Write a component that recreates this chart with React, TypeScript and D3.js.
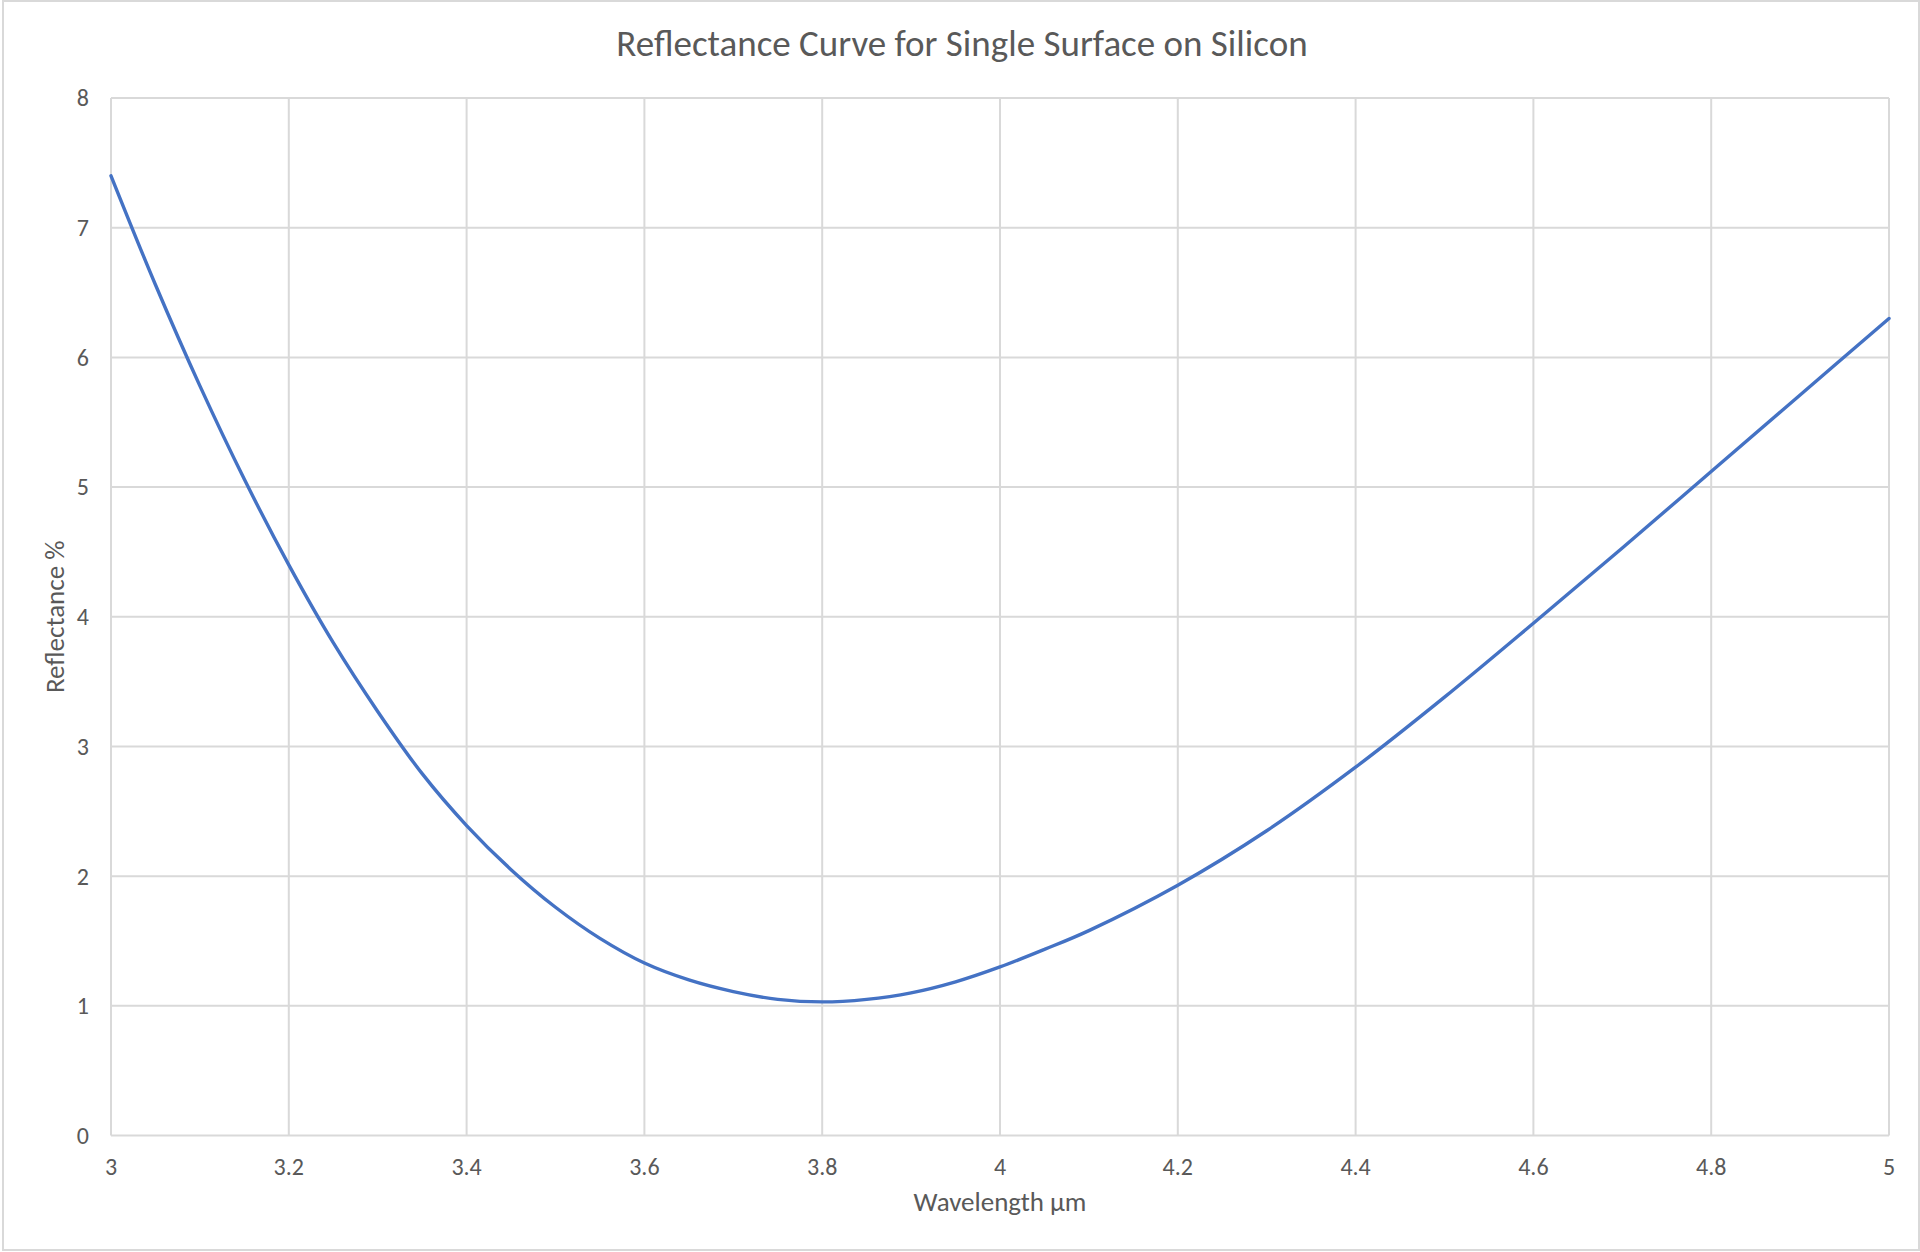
import * as d3 from "d3";

// wavelength (µm) and reflectance (%)
const WAVELENGTH = [
  3.0, 3.05, 3.1, 3.15, 3.2, 3.25, 3.3, 3.35, 3.4, 3.45, 3.5, 3.55, 3.6, 3.65, 3.7, 3.75, 3.8,
  3.85, 3.9, 3.95, 4.0, 4.05, 4.1, 4.2, 4.3, 4.4, 4.5, 4.6, 4.7, 4.8, 4.9, 5.0,
];
const REFLECTANCE = [
  7.4, 6.56, 5.78, 5.06, 4.4, 3.8, 3.27, 2.79, 2.39, 2.05, 1.76, 1.52, 1.33, 1.2, 1.11, 1.05, 1.03,
  1.05, 1.1, 1.185, 1.3, 1.435, 1.58, 1.93, 2.35, 2.84, 3.38, 3.95, 4.53, 5.12, 5.71, 6.3,
];
const X_TICKS = [3, 3.2, 3.4, 3.6, 3.8, 4, 4.2, 4.4, 4.6, 4.8, 5];
const Y_TICKS = [0, 1, 2, 3, 4, 5, 6, 7, 8];

const TITLE = "Reflectance Curve for Single Surface on Silicon";
const X_LABEL = "Wavelength µm";
const Y_LABEL = "Reflectance %";

const W = 1920;
const H = 1252;
const FONT = "Carlito, Calibri, Lato, sans-serif";
const TEXT = "#595959";
const GRID = "#d9d9d9";
const LINE = "#4472c4";

export default function App() {
  const x = d3.scaleLinear().domain([3, 5]).range([111, 1889]);
  const y = d3.scaleLinear().domain([0, 8]).range([1135.5, 98]);

  const points = WAVELENGTH.map((w, i) => ({ w, r: REFLECTANCE[i] }));
  const line = d3
    .line<{ w: number; r: number }>()
    .x((d) => x(d.w))
    .y((d) => y(d.r))
    .curve(d3.curveCatmullRom.alpha(0.5));

  return (
    <svg
      width={W}
      height={H}
      viewBox={`0 0 ${W} ${H}`}
      style={{ position: "absolute", left: 0, top: 0, display: "block", background: "#fff" }}
    >
      <rect x={3} y={1} width={W - 4} height={H - 3} fill="#fff" stroke={GRID} strokeWidth={2} />

      {/* grid */}
      {Y_TICKS.map((t) => (
        <line key={`gy${t}`} x1={x(3)} x2={x(5)} y1={y(t)} y2={y(t)} stroke={GRID} strokeWidth={2} />
      ))}
      {X_TICKS.map((t) => (
        <line key={`gx${t}`} x1={x(t)} x2={x(t)} y1={y(0)} y2={y(8)} stroke={GRID} strokeWidth={2} />
      ))}

      {/* curve */}
      <path d={line(points) ?? ""} fill="none" stroke={LINE} strokeWidth={3.4} strokeLinejoin="round" strokeLinecap="round" />

      {/* tick labels */}
      {Y_TICKS.map((t) => (
        <text
          key={`ty${t}`}
          x={89}
          y={y(t)}
          dy="0.35em"
          textAnchor="end"
          fontFamily={FONT}
          fontSize={24}
          fill={TEXT}
        >
          {t}
        </text>
      ))}
      {X_TICKS.map((t) => (
        <text
          key={`tx${t}`}
          x={x(t)}
          y={1175}
          textAnchor="middle"
          fontFamily={FONT}
          fontSize={24}
          fill={TEXT}
        >
          {t}
        </text>
      ))}

      {/* titles */}
      <text x={962} y={56} textAnchor="middle" fontFamily={FONT} fontSize={37} fill={TEXT}>
        {TITLE}
      </text>
      <text x={(x(3) + x(5)) / 2} y={1211} textAnchor="middle" fontFamily={FONT} fontSize={27} fill={TEXT}>
        {X_LABEL}
      </text>
      <text
        transform={`translate(64, ${(y(0) + y(8)) / 2}) rotate(-90)`}
        textAnchor="middle"
        fontFamily={FONT}
        fontSize={27}
        fill={TEXT}
      >
        {Y_LABEL}
      </text>
    </svg>
  );
}
